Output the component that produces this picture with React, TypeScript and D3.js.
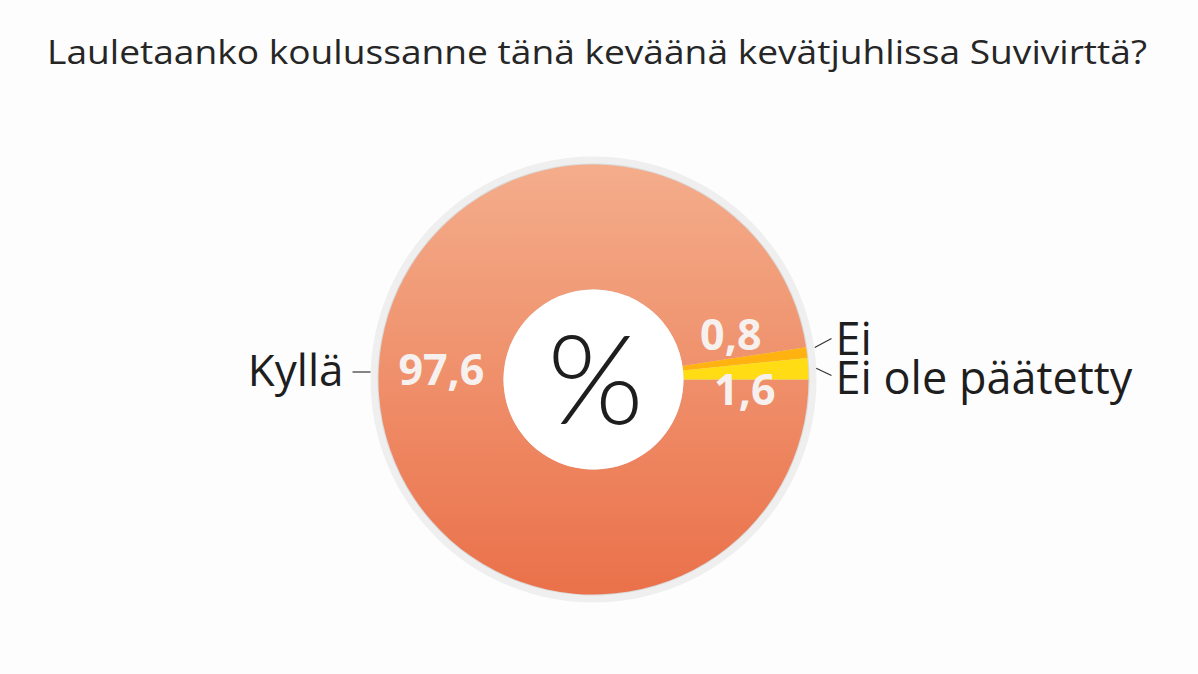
import * as React from "react";
import * as d3 from "d3";

const title = "Lauletaanko koulussanne tänä keväänä kevätjuhlissa Suvivirttä?";
const categories = ["Kyllä", "Ei", "Ei ole päätetty"];
const values = [97.6, 0.8, 1.6];
const valueLabels = ["97,6", "0,8", "1,6"];

const W = 1198;
const H = 674;
const cx = 593.5;
const cy = 379.5;
const outerR = 215;
const innerR = 90;
const ringR = 223;
const font = "'Open Sans', sans-serif";

const App: React.FC = () => {
  const pie = d3
    .pie<number>()
    .sort(null)
    .startAngle(Math.PI / 2)
    .endAngle(Math.PI / 2 + 2 * Math.PI);
  const arcs = pie(values);
  const arc = d3.arc<d3.PieArcDatum<number>>().innerRadius(innerR).outerRadius(outerR);
  const fills = ["url(#kylla)", "#ffb210", "#ffdc14"];
  // nudges for value labels so the thin slices stay readable
  const nudge = [
    [0, -10],
    [-14, -26],
    [-1, 18],
  ];

  const outerPoint = (angle: number, r: number) => [Math.sin(angle) * r, -Math.cos(angle) * r];

  return (
    <svg width={W} height={H} style={{ position: "absolute", left: 0, top: 0, background: "#fdfdfd" }}>
      <defs>
        <linearGradient id="kylla" x1="0" y1="0" x2="0" y2="1">
          <stop offset="0%" stopColor="#f4ad8b" />
          <stop offset="100%" stopColor="#ea714a" />
        </linearGradient>
      </defs>
      <rect width={W} height={H} fill="#fdfdfd" />
      <text
        x={47}
        y={64}
        fontFamily={font}
        fontSize={33}
        fill="#262626"
        textLength={1100}
        lengthAdjust="spacingAndGlyphs"
      >
        {title}
      </text>
      <g transform={`translate(${cx},${cy})`}>
        <circle r={ringR} fill="#efefef" />
        <circle r={outerR + 1} fill="#d9d9d9" />
        {arcs.map((a, i) => (
          <path key={categories[i]} d={arc(a) || ""} fill={fills[i]} />
        ))}
        <circle r={innerR} fill="#ffffff" />
        <text x={2} y={0} dy="0.36em" textAnchor="middle" fontFamily="Lato, sans-serif" fontWeight={300} fontSize={124} fill="#1e1e1e">
          %
        </text>
        {arcs.map((a, i) => {
          const [x, y] = arc.centroid(a);
          const lx = i === 0 ? x : x + nudge[i][0];
          const ly = i === 0 ? nudge[0][1] : y + nudge[i][1];
          return (
            <text
              key={"v" + i}
              x={lx}
              y={ly}
              dy="0.36em"
              textAnchor="middle"
              fontFamily={font}
              fontWeight={700}
              fontSize={43}
              fill="#f6f1ee"
            >
              {valueLabels[i]}
            </text>
          );
        })}
        <line x1={-241} x2={-223} y1={-7.5} y2={-7.5} stroke="#333" strokeWidth={1.2} />
        <text x={-250} y={6} textAnchor="end" fontFamily={font} fontSize={44} fill="#1e1e1e">
          {categories[0]}
        </text>
        {arcs.slice(1).map((a, j) => {
          const mid = (a.startAngle + a.endAngle) / 2;
          const [x0, y0] = outerPoint(mid, ringR);
          const y1 = j === 0 ? -41 : -4;
          return (
            <line
              key={"l" + j}
              x1={x0}
              y1={y0 + (j === 0 ? -4 : 0)}
              x2={238}
              y2={y1}
              stroke="#333"
              strokeWidth={1.2}
            />
          );
        })}
        <text fontFamily={font} fontSize={45} fill="#1e1e1e">
          <tspan x={242} y={-25}>
            {categories[1]}
          </tspan>
          <tspan x={242} y={14}>
            {categories[2]}
          </tspan>
        </text>
      </g>
    </svg>
  );
};

export default App;
